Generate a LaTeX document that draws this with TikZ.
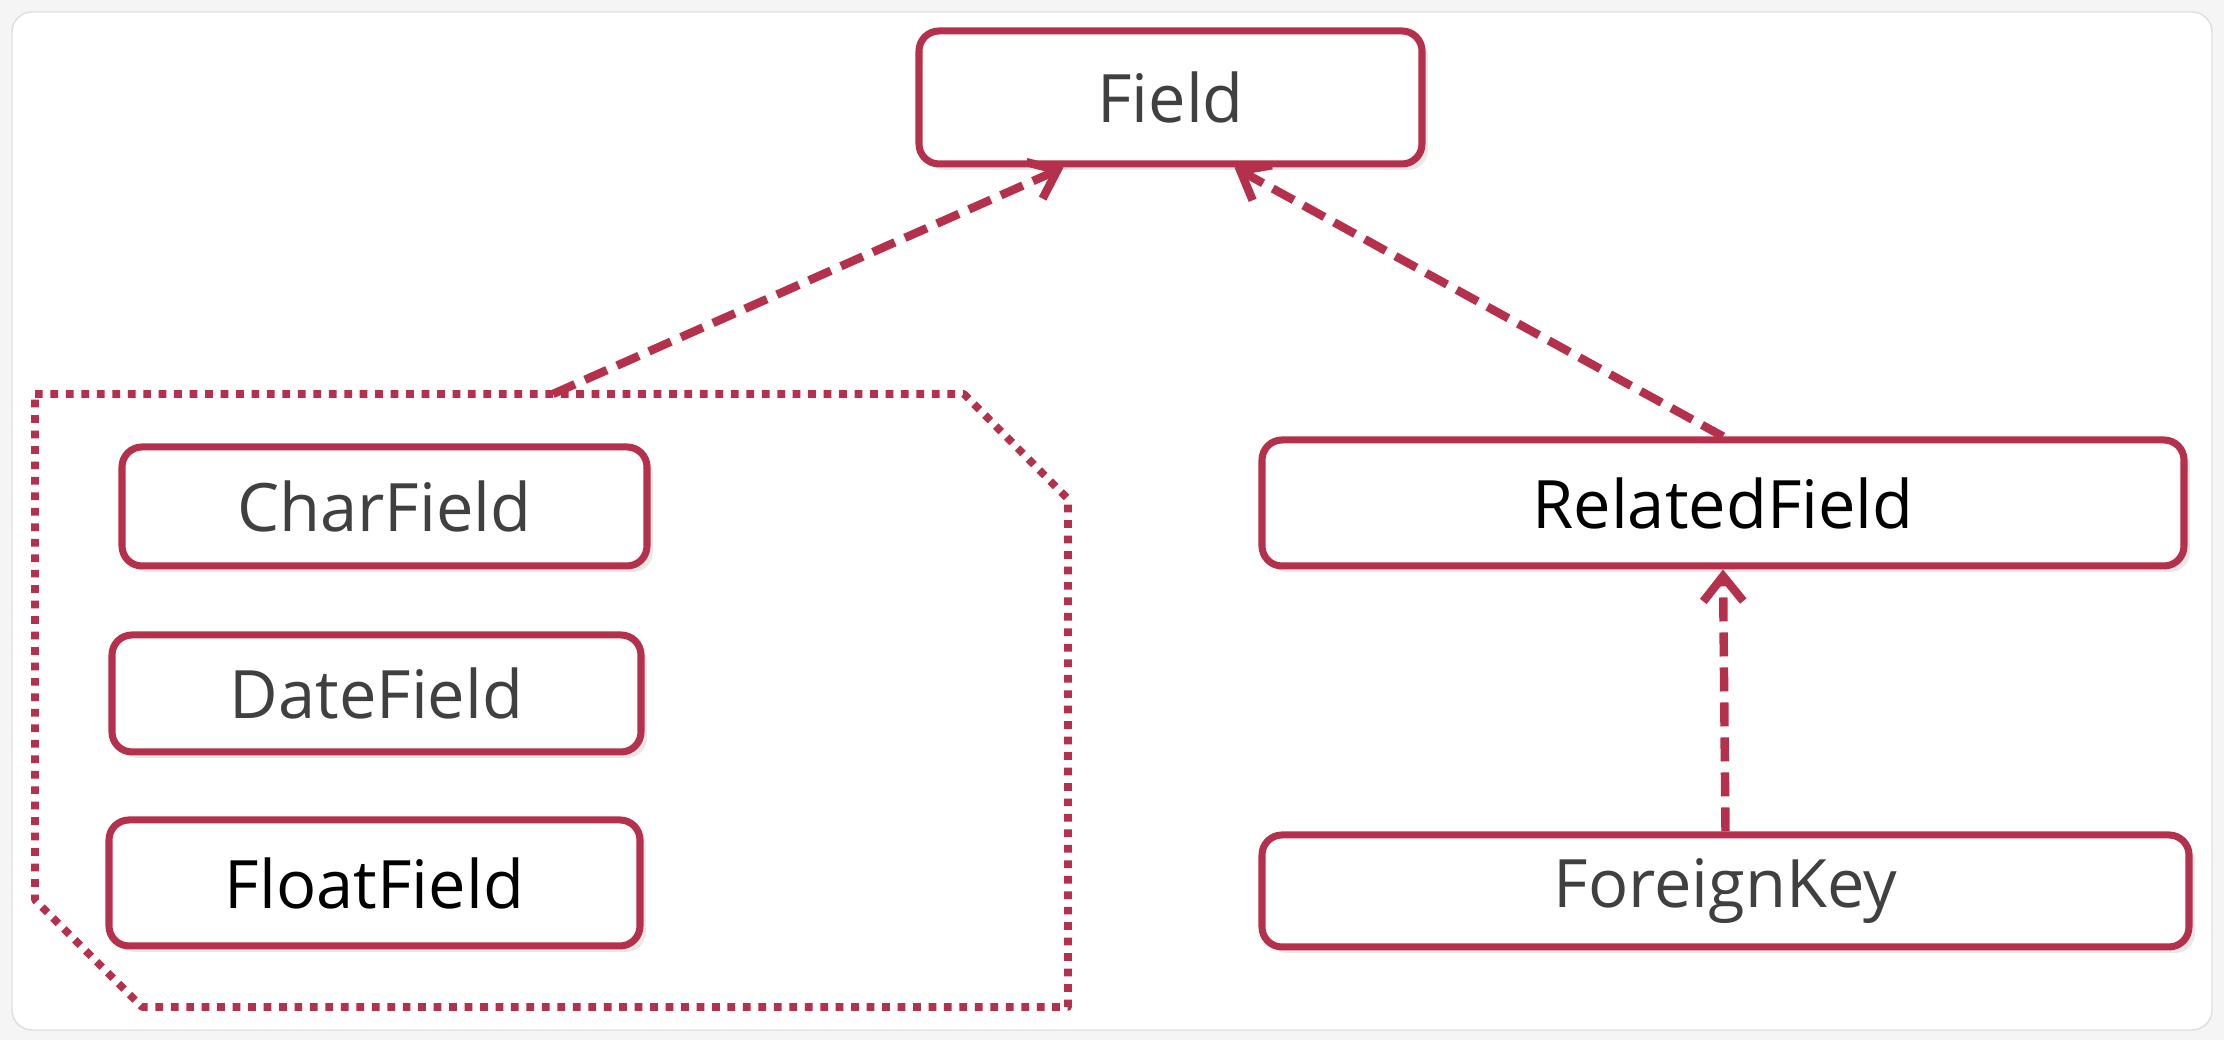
\documentclass[tikz,border=0pt]{standalone}
\usepackage{fontspec}
\setmainfont{Open Sans}
\usetikzlibrary{arrows.meta,shadows}
\definecolor{boxred}{HTML}{B5304A}
\definecolor{txtgray}{HTML}{404040}
\begin{document}
\begin{tikzpicture}[font=\fontsize{19}{22}\selectfont, line join=round,
    cls/.style={draw=boxred, line width=2pt, rounded corners=2mm, fill=white,
      text=txtgray, drop shadow={opacity=0.18, shadow xshift=0.6mm, shadow yshift=-0.6mm}},
    inh/.style={draw=boxred, line width=2.4pt, dash pattern=on 2.4mm off 1.1mm,
      -{Straight Barb[length=2.5mm, width=4mm, line width=2.4pt]}}]
	\fill[gray!8] (0,0) rectangle (22.24,10.40);
	\draw[gray!25, fill=white, rounded corners=2mm] (0.12,0.10) rectangle (22.12,10.28);
	
	\node[cls, minimum width=5.03cm, minimum height=1.33cm] (field) at (11.705,9.425) {Field};
	\node[cls, minimum width=5.25cm, minimum height=1.19cm] (charf) at (3.845,5.335) {CharField};
	\node[cls, minimum width=5.29cm, minimum height=1.17cm] (datef) at (3.765,3.465) {DateField};
	\node[cls, minimum width=5.31cm, minimum height=1.26cm, text=black] (floatf) at (3.745,1.57) {FloatField};
	\node[cls, minimum width=9.22cm, minimum height=1.26cm, text=black] (relf) at (17.23,5.37) {RelatedField};
	\node[cls, minimum width=9.27cm, minimum height=1.12cm] (fkey) at (17.255,1.49) {ForeignKey};
	
	% group of simple fields
	\draw[boxred, line width=2.2pt, dash pattern=on 2.2pt off 2.2pt]
	  (0.35,6.46) -- (9.64,6.46) -- (10.68,5.41) -- (10.68,0.33) -- (1.42,0.33) -- (0.35,1.40) -- cycle;
	\coordinate (grp) at (5.53,6.46);
	
	\draw[inh] (grp) -- ([xshift=-1.07cm]field.south);
	\draw[inh] (relf.north) -- ([xshift=0.64cm]field.south);
	\draw[inh] (fkey.north) -- (relf.south);
\end{tikzpicture}
\end{document}
